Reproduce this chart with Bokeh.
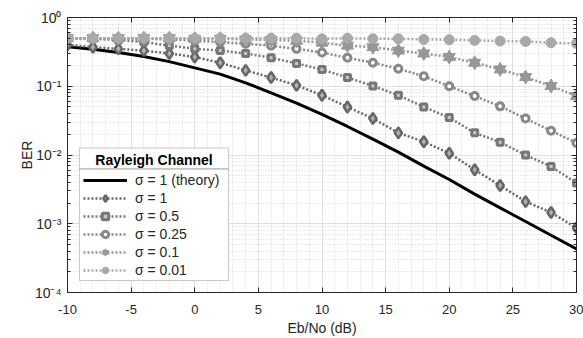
from bokeh.plotting import figure
from bokeh.models import (Range1d, Legend, LegendItem, LinearAxis, LogAxis, SingleIntervalTicker,
                          LogTicker, CustomJSTickFormatter, BoxAnnotation, Label, CustomLabelingPolicy)
from bokeh.embed import file_html
from bokeh.resources import INLINE

# ---- data ----
ebno = [-10, -8, -6, -4, -2, 0, 2, 4, 6, 8, 10, 12, 14, 16, 18, 20, 22, 24, 26, 28, 30]
ber_theory = [0.375, 0.345, 0.31, 0.27, 0.228, 0.185, 0.15, 0.112, 0.08, 0.057, 0.039,
              0.026, 0.017, 0.011, 0.0069, 0.0044, 0.0027, 0.0017, 0.00108, 0.00068, 0.00043]
ber_s1 = [0.40, 0.37, 0.35, 0.33, 0.30, 0.266, 0.22, 0.17, 0.134, 0.103, 0.074, 0.05,
          0.034, 0.021, 0.0156, 0.0106, 0.0061, 0.0036, 0.0021, 0.00146, 0.00087]
ber_s05 = [0.5, 0.49, 0.47, 0.44, 0.39, 0.35, 0.33, 0.30, 0.26, 0.215, 0.175, 0.134,
           0.101, 0.074, 0.05, 0.035, 0.021, 0.0153, 0.01, 0.0068, 0.0039]
ber_s025 = [0.5, 0.5, 0.49, 0.49, 0.48, 0.46, 0.44, 0.415, 0.39, 0.35, 0.31, 0.26,
            0.22, 0.18, 0.14, 0.1, 0.072, 0.051, 0.034, 0.0225, 0.015]
ber_s01 = [0.5, 0.5, 0.5, 0.5, 0.5, 0.49, 0.49, 0.48, 0.47, 0.46, 0.43, 0.39,
           0.37, 0.33, 0.30, 0.266, 0.22, 0.176, 0.136, 0.101, 0.072]
ber_s001 = [0.5, 0.5, 0.5, 0.5, 0.5, 0.5, 0.5, 0.5, 0.5, 0.5, 0.49, 0.5,
            0.49, 0.49, 0.48, 0.475, 0.464, 0.454, 0.449, 0.43, 0.42]
labels = ["\u03c3 = 1 (theory)", "\u03c3 = 1", "\u03c3 = 0.5", "\u03c3 = 0.25", "\u03c3 = 0.1", "\u03c3 = 0.01"]
x_label = "Eb/No (dB)"
y_label = "BER"
legend_title = "Rayleigh Channel"

FONT = "Liberation Sans"
TXT = "#262626"
BOX = "#4a4a4a"

p = figure(width=583, height=338, x_range=Range1d(-10, 30), y_range=Range1d(1e-4, 1),
           y_axis_type="log", output_backend="svg", toolbar_location=None,
           min_border_left=67, min_border_right=7, min_border_top=17, min_border_bottom=45)
p.background_fill_color = "white"
p.outline_line_color = TXT

# axes
p.xaxis.ticker = SingleIntervalTicker(interval=5, num_minor_ticks=5)
p.xaxis.formatter = CustomJSTickFormatter(code="return String(tick);")
p.yaxis.ticker = LogTicker(num_minor_ticks=10)
p.yaxis.formatter = CustomJSTickFormatter(code="""
const e = Math.round(Math.log10(tick));
const sup = {'-':'\u207b','0':'\u2070','1':'\u00b9','2':'\u00b2','3':'\u00b3','4':'\u2074',
             '5':'\u2075','6':'\u2076','7':'\u2077','8':'\u2078','9':'\u2079'};
return '10' + String(e).split('').map(c => sup[c]).join('');
""")
for ax in (p.xaxis[0], p.yaxis[0]):
    ax.axis_line_color = TXT
    ax.major_tick_line_color = TXT
    ax.major_tick_in = 5
    ax.major_tick_out = 0
    ax.minor_tick_in = 3
    ax.minor_tick_out = 0
    ax.major_label_text_font = FONT
    ax.major_label_text_font_size = "13px"
    ax.major_label_text_color = TXT
    ax.axis_label_text_font = FONT
    ax.axis_label_text_font_size = "14px"
    ax.axis_label_text_font_style = "normal"
    ax.axis_label_text_color = TXT
p.yaxis.major_label_text_font_size = "14px"
p.xaxis.minor_tick_line_color = None
p.yaxis.minor_tick_line_color = TXT
p.xaxis.axis_label = x_label
p.yaxis.axis_label = y_label
p.xaxis.major_label_standoff = 12
p.xaxis.axis_label_standoff = 3
p.yaxis.major_label_standoff = 6
p.yaxis.axis_label_standoff = -3

def no_labels():
    return CustomLabelingPolicy(code="""
for (const i of indices) { indices.unset(i) }
return indices
""")

top = LinearAxis(ticker=SingleIntervalTicker(interval=5, num_minor_ticks=5),
                 major_label_policy=no_labels(), major_label_standoff=0,
                 major_label_text_font_size="1px",
                 axis_line_color=TXT, major_tick_line_color=TXT, major_tick_in=5, major_tick_out=0,
                 minor_tick_line_color=None)
right = LogAxis(ticker=LogTicker(num_minor_ticks=10),
                major_label_policy=no_labels(), major_label_standoff=0,
                major_label_text_font_size="1px",
                axis_line_color=TXT, major_tick_line_color=TXT, major_tick_in=5, major_tick_out=0,
                minor_tick_line_color=TXT, minor_tick_in=3, minor_tick_out=0)
p.add_layout(top, "above")
p.add_layout(right, "right")

# grid
for g in (p.xgrid[0], p.ygrid[0]):
    g.grid_line_color = "#e0e0e0"
    g.grid_line_width = 1
    g.minor_grid_line_color = "#d4d4d4"
    g.minor_grid_line_dash = "1 2"
    g.minor_grid_line_width = 1

DASH = "2 2"
r_theory = p.line(ebno, ber_theory, line_color="black", line_width=3)

c1 = "#666666"
l1 = p.line(ebno, ber_s1, line_color=c1, line_width=2.5, line_dash=DASH)
m1 = p.scatter(ebno, ber_s1, marker="diamond", size=11, line_color=c1,
               line_width=2.5, fill_color="#b0b0b0")

c2 = "#777777"
l2 = p.line(ebno, ber_s05, line_color=c2, line_width=2.5, line_dash=DASH)
m2 = p.scatter(ebno, ber_s05, marker="square", size=6, line_color=c2,
               line_width=3, fill_color="#c8c8c8")

c3 = "#888888"
l3 = p.line(ebno, ber_s025, line_color=c3, line_width=2.5, line_dash=DASH)
m3 = p.scatter(ebno, ber_s025, marker="circle", size=7, line_color=c3,
               line_width=3, fill_color="white")

c4 = "#979797"
l4 = p.line(ebno, ber_s01, line_color=c4, line_width=2.5, line_dash=DASH)
m4a = p.scatter(ebno, ber_s01, marker="triangle", size=12, line_color=c4, fill_color=c4, line_width=1)
m4b = p.scatter(ebno, ber_s01, marker="inverted_triangle", size=12, line_color=c4, fill_color=c4, line_width=1)

c5 = "#a9a9a9"
l5 = p.line(ebno, ber_s001, line_color=c5, line_width=2.5, line_dash=DASH)
m5 = p.scatter(ebno, ber_s001, marker="circle", size=10, line_color=c5, fill_color=c5)

# legend frame, title and separator (drawn beneath a transparent legend)
box = BoxAnnotation(left=-9.06, right=2.65, top=0.01263, bottom=0.0001493,
                    fill_color="white", fill_alpha=1, line_color=BOX, line_width=1)
p.add_layout(box)
sep = BoxAnnotation(left=-9.06, right=2.65, top=0.006267, bottom=0.006267,
                    fill_alpha=0, line_color=BOX, line_width=1)
p.add_layout(sep)
ttl = Label(x=-3.2, y=0.0086, text=legend_title, text_align="center", text_baseline="middle",
            text_font=FONT, text_font_size="14px", text_font_style="bold", text_color="black")
p.add_layout(ttl)

legend = Legend(items=[
    LegendItem(label=labels[0], renderers=[r_theory]),
    LegendItem(label=labels[1], renderers=[l1, m1]),
    LegendItem(label=labels[2], renderers=[l2, m2]),
    LegendItem(label=labels[3], renderers=[l3, m3]),
    LegendItem(label=labels[4], renderers=[l4, m4a, m4b]),
    LegendItem(label=labels[5], renderers=[l5, m5]),
], location=(12, 10), margin=0, padding=4, spacing=2,
    glyph_width=44, glyph_height=16, label_height=16, label_standoff=8,
    label_text_font=FONT, label_text_font_size="14px", label_text_color=TXT,
    border_line_alpha=0, background_fill_alpha=0)
p.add_layout(legend)

open("out.html", "w").write(file_html(p, INLINE))
